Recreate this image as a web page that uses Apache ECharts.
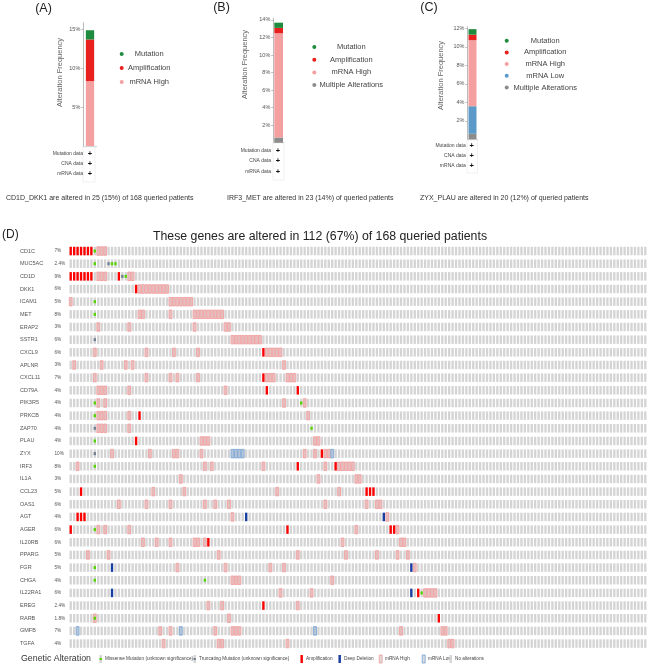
<!DOCTYPE html>
<html><head><meta charset="utf-8">
<script src="https://cdn.jsdelivr.net/npm/echarts@6/dist/echarts.min.js"></script>
<style>html,body{margin:0;padding:0;background:#fff}#c{width:650px;height:667px}</style>
</head><body><div id="c"></div>
<script>
const FONT = '"Liberation Sans", Arial, sans-serif';
const TOTAL = 168;

// ---- Panels A, B, C (patient counts, bottom to top) ----
const aSeries = ['mRNA High', 'Amplification', 'Mutation'];
const aCounts = [14, 9, 2];
const bSeries = ['Multiple Alterations', 'mRNA High', 'Amplification', 'Mutation'];
const bCounts = [1, 20, 1, 1];
const cSeries = ['Multiple Alterations', 'mRNA Low', 'mRNA High', 'Amplification', 'Mutation'];
const cCounts = [1, 5, 12, 1, 1];
const aTicks = [5, 10, 15];
const bTicks = [2, 4, 6, 8, 10, 12, 14];
const cTicks = [2, 4, 6, 8, 10, 12];
const panelColors = {
  'Mutation': '#1e8b3e', 'Amplification': '#e8201e', 'mRNA High': '#f4a0a0',
  'mRNA Low': '#5b9ac8', 'Multiple Alterations': '#8c8c8c'
};

// ---- Panel D oncoprint ----
const genes = ['CD1C','MUC5AC','CD1D','DKK1','ICAM1','MET','ERAP2','SSTR1','CXCL9','APLNR','CXCL11','CD79A',
  'PIK3R5','PRKCB','ZAP70','PLAU','ZYX','IRF3','IL1A','CCL23','OAS1','AGT','AGER','IL20RB','PPARG','FGR',
  'CHGA','IL22RA1','EREG','RARB','GMFB','TGFA'];
const genePct = ['7%','2.4%','9%','6%','5%','8%','3%','6%','6%','3%','7%','4%','4%','4%','4%','4%','10%','8%',
  '3%','5%','6%','4%','6%','6%','5%','5%','4%','6%','2.4%','1.8%','7%','4%'];

const amplification = [
  ['CD1C',[0,1,2,3,4,5,6]], ['CD1D',[0,1,2,3,4,5,6,14]], ['DKK1',[19]], ['CXCL9',[56]], ['CXCL11',[56]],
  ['CD79A',[57,66]], ['PRKCB',[20]], ['PLAU',[19]], ['ZYX',[73]], ['IRF3',[66,77]], ['CCL23',[3,86,87,88]],
  ['AGT',[2,3,4]], ['AGER',[0,63,93,94]], ['IL20RB',[40]], ['IL22RA1',[101]], ['EREG',[56]], ['RARB',[107]]
];
const deepDeletion = [
  ['AGT',[51,91]], ['FGR',[12,99]], ['IL22RA1',[12,99]]
];
const mrnaHigh = [
  ['CD1C',[8,9,10]], ['CD1D',[8,9,10,17,18]], ['DKK1',[20,21,22,23,24,25,26,27,28]],
  ['ICAM1',[0,29,30,31,32,33,34,35]], ['MET',[20,21,29,36,37,38,39,40,41,42,43,44]],
  ['ERAP2',[8,17,36,45,46]], ['SSTR1',[47,48,49,50,51,52,53,54,55]], ['CXCL9',[7,22,30,37,57,58,59,60,61]],
  ['APLNR',[1,9,16,18,62]], ['CXCL11',[7,22,29,31,37,57,58,59,63,64,65]], ['CD79A',[8,9,10,17,45]],
  ['PIK3R5',[8,10,62,68]], ['PRKCB',[8,9,10,17,69]], ['ZAP70',[8,9,10,17]], ['PLAU',[38,39,40,71,72]],
  ['ZYX',[12,23,30,31,38,68,71,74,75]], ['IRF3',[2,39,41,56,74,78,79,80,81,82]], ['IL1A',[32,72,83,84]],
  ['CCL23',[24,33,60,78]], ['OAS1',[14,22,29,39,42,46,74,86,89,90]], ['AGT',[47,92]],
  ['AGER',[8,10,17,83,95]], ['IL20RB',[21,25,29,36,37,39,79,96,97]], ['PPARG',[5,11,43,66,80,89,95,98]],
  ['FGR',[31,45,58,62,100]], ['CHGA',[47,48,49,76]], ['IL22RA1',[61,70,103,104,105,106]],
  ['EREG',[40,44,66]], ['RARB',[7,46]], ['GMFB',[26,29,42,47,48,49,96,108,109]], ['TGFA',[27,43,44,63,110,111]]
];
const mrnaLow = [
  ['ZYX',[47,48,49,50,76]], ['GMFB',[2,32,71]]
];
const missense = [
  ['CD1C',[7]], ['MUC5AC',[7,12,13]], ['CD1D',[16]], ['ICAM1',[7]], ['MET',[7]], ['PIK3R5',[7,67]],
  ['PRKCB',[7]], ['ZAP70',[70]], ['PLAU',[7]], ['IRF3',[7]], ['AGER',[7]], ['FGR',[7]], ['CHGA',[7,39]],
  ['IL22RA1',[102]], ['RARB',[7]]
];
const truncating = [
  ['MUC5AC',[11]], ['CD1D',[15]], ['SSTR1',[7]], ['ZAP70',[7]], ['ZYX',[7]]
];
const legendD = [
  ['Missense Mutation (unknown significance)', 'mut', '#53d400'],
  ['Truncating Mutation (unknown significance)', 'mut', '#708090'],
  ['Amplification', 'full', '#ff0000'],
  ['Deep Deletion', 'full', '#1a3fa3'],
  ['mRNA High', 'outline', '#f2a0a0'],
  ['mRNA Low', 'outline', '#7aa6d6'],
  ['No alterations', 'none', '#d3d3d3']
];
const legendDX = [99.5, 193.5, 300.5, 338.5, 379.5, 422.5, 449.5];

const COLS = 168;
function expand(list) {
  const out = [];
  list.forEach(([g, cols]) => { const r = genes.indexOf(g); cols.forEach(c => out.push([c, r])); });
  return out;
}
const bgData = [];
genes.forEach((g, r) => { for (let c = 0; c < COLS; c++) bgData.push([c, r]); });

function mkRender(kind, style) {
  return function (params, api) {
    const p = api.coord([api.value(0), api.value(1)]);
    const w = api.size([1, 0])[0];
    const h = api.size([0, 1])[1];
    const bw = w * 0.68, bh = h * 0.67;
    let x = p[0] + (w - bw) / 2, y = p[1] - bh / 2, ww = bw, hh = bh;
    if (kind === 'mut') { hh = h * 0.24; y = p[1] - hh / 2; }
    if (kind === 'outline') { x -= 0.25; ww += 0.5; }
    return { type: 'rect', shape: { x, y, width: ww, height: hh }, style: style };
  };
}

// ---- build options ----
const grids = [
  { left: 83.3, top: 22.7, width: 13.4, height: 123.3 },
  { left: 273.3, top: 18.3, width: 10.7, height: 124.4 },
  { left: 467.5, top: 26.7, width: 10, height: 112.6 },
  { left: 69, top: 244.7, width: 578, height: 405.2 }
];
const maxes = [15.85, 14.19, 12.17];
const ticks = [aTicks, bTicks, cTicks];
const intervals = [5, 2, 2];
const xAxes = [], yAxes = [];
for (let i = 0; i < 3; i++) {
  xAxes.push({ type: 'category', gridIndex: i, data: [''], axisLine: { lineStyle: { color: '#cccccc', width: 0.8 } },
    axisTick: { show: false }, axisLabel: { show: false } });
  yAxes.push({ type: 'value', gridIndex: i, min: 0, max: maxes[i], interval: intervals[i],
    splitLine: { show: false },
    axisLine: { show: true, lineStyle: { color: '#aaaaaa', width: 0.8 } },
    axisTick: { show: true, length: 2, lineStyle: { color: '#aaaaaa', width: 0.8 }, customValues: ticks[i] },
    axisLabel: { fontSize: 5.5, color: '#555', fontFamily: FONT, margin: 3, customValues: ticks[i],
      formatter: v => (ticks[i].indexOf(v) >= 0 ? v + '%' : '') } });
}
xAxes.push({ type: 'value', gridIndex: 3, min: 0, max: COLS, show: false });
yAxes.push({ type: 'category', gridIndex: 3, data: genes, inverse: true,
  axisLine: { show: false }, axisTick: { show: false }, splitLine: { show: false },
  axisLabel: { align: 'left', margin: 49, interval: 0, fontFamily: FONT,
    formatter: (v, i) => '{g|' + v + '}{p|' + genePct[i] + '}',
    rich: { g: { width: 34.5, fontSize: 5.5, color: '#555', fontFamily: FONT },
            p: { fontSize: 4.7, color: '#555', fontFamily: FONT } } } });

const series = [];
[[aSeries, aCounts], [bSeries, bCounts], [cSeries, cCounts]].forEach(([names, counts], i) => {
  names.forEach((n, k) => {
    series.push({ name: n, type: 'bar', stack: 'p' + i, xAxisIndex: i, yAxisIndex: i,
      barWidth: [8.3, 8.7, 8][i], data: [counts[k] / TOTAL * 100],
      itemStyle: { color: panelColors[n] }, emphasis: { disabled: true } });
  });
});
const onco = [
  ['No alterations', bgData, 'full', { fill: '#d4d4d4' }],
  ['mRNA High', expand(mrnaHigh), 'outline', { fill: 'rgba(255,150,150,0.35)', stroke: '#f2a0a0', lineWidth: 0.9 }],
  ['mRNA Low', expand(mrnaLow), 'outline', { fill: 'rgba(120,160,215,0.3)', stroke: '#7aa6d6', lineWidth: 0.9 }],
  ['Amplification', expand(amplification), 'full', { fill: '#ff0000' }],
  ['Deep Deletion', expand(deepDeletion), 'full', { fill: '#1a3fa3' }],
  ['Missense Mutation (unknown significance)', expand(missense), 'mut', { fill: '#53d400' }],
  ['Truncating Mutation (unknown significance)', expand(truncating), 'mut', { fill: '#708090' }]
];
onco.forEach(([n, d, kind, st]) => {
  series.push({ name: 'D ' + n, type: 'custom', xAxisIndex: 3, yAxisIndex: 3, data: d,
    renderItem: mkRender(kind, st), silent: true });
});

function mkLegend(names, left, top, gap, boxW) {
  return { orient: 'vertical', left: left, top: top, padding: 0, itemGap: gap, icon: 'circle',
    itemWidth: 4, itemHeight: 4, data: names.slice().reverse(), selectedMode: false,
    formatter: '{a|{name}}',
    textStyle: { fontFamily: FONT, rich: { a: { width: boxW, align: 'center', fontSize: 7.5, color: '#444', lineHeight: 10, fontFamily: FONT } } } };
}

const graphic = [];
function txt(x, y, s, size, opts) {
  graphic.push(Object.assign({ type: 'text', x: x, y: y, silent: true,
    style: Object.assign({ text: s, fontSize: size, fontFamily: FONT, fill: '#333', verticalAlign: 'middle', align: 'left' }, opts || {}) }));
}
// panel labels
txt(43.5, 9, '(A)', 12.5, { align: 'center', fill: '#222' });
txt(221.5, 8, '(B)', 12.5, { align: 'center', fill: '#222' });
txt(429, 8, '(C)', 12.5, { align: 'center', fill: '#222' });
txt(2, 234.5, '(D)', 12, { fill: '#222' });
txt(320, 237, 'These genes are altered in 112 (67%) of 168 queried patients', 12.3, { align: 'center', fill: '#222' });
// y axis titles
[[60, 72.5], [245, 64.5], [440.7, 75.5]].forEach(([x, y]) => {
  graphic.push({ type: 'text', x: x, y: y, rotation: Math.PI / 2, silent: true,
    style: { text: 'Alteration Frequency', fontSize: 7.5, fontFamily: FONT, fill: '#666', align: 'center', verticalAlign: 'middle' } });
});
// data-type rows
const dataRows = ['Mutation data', 'CNA data', 'mRNA data'];
[[83, 90, [154, 164, 174], [83, 147, 12, 35]], [271, 278, [151, 161, 172], [273, 143, 11, 37]],
 [465.7, 471.7, [146, 155.7, 165.7], [467, 140, 10.5, 33]]].forEach(([rx, px, ys, box]) => {
  graphic.push({ type: 'rect', silent: true, shape: { x: box[0], y: box[1], width: box[2], height: box[3] },
    style: { fill: 'none', stroke: '#eeeeee', lineWidth: 0.8 } });
  dataRows.forEach((s, k) => {
    txt(rx, ys[k], s, 5, { align: 'right', fill: '#444' });
    txt(px, ys[k], '+', 7.5, { align: 'center', fill: '#111', fontWeight: 'bold' });
  });
});
// captions
txt(6, 198, 'CD1D_DKK1 are altered in 25 (15%) of 168 queried patients', 7, { fill: '#333' });
txt(227, 198, 'IRF3_MET are altered in 23 (14%) of queried patients', 7, { fill: '#333' });
txt(420, 197.7, 'ZYX_PLAU are altered in 20 (12%) of queried patients', 7, { fill: '#333' });
// legend D
txt(21, 659, 'Genetic Alteration', 8.8, { fill: '#333' });
legendD.forEach(([name, kind, color], i) => {
  const x = legendDX[i], y = 655, w = 2.4, h = 8;
  graphic.push({ type: 'rect', silent: true, shape: { x: x, y: y, width: w, height: h }, style: { fill: '#d4d4d4' } });
  if (kind === 'full') graphic.push({ type: 'rect', silent: true, shape: { x: x, y: y, width: w, height: h }, style: { fill: color } });
  if (kind === 'mut') graphic.push({ type: 'rect', silent: true, shape: { x: x, y: y + 3, width: w, height: 2 }, style: { fill: color } });
  if (kind === 'outline') graphic.push({ type: 'rect', silent: true, shape: { x: x - 0.25, y: y, width: w + 0.5, height: h }, style: { fill: 'rgba(255,255,255,0.2)', stroke: color, lineWidth: 0.9 } });
  txt(x + 5.5, 659, name, 4.7, { fill: '#444' });
});

const option = {
  animation: false,
  backgroundColor: '#ffffff',
  textStyle: { fontFamily: FONT },
  grid: grids,
  xAxis: xAxes,
  yAxis: yAxes,
  legend: [
    mkLegend(aSeries, 119.7, 50, 6, 41),
    mkLegend(bSeries, 312.3, 43, 4.7, 60),
    mkLegend(cSeries, 504.7, 36.7, 3.7, 63)
  ],
  series: series,
  graphic: graphic
};
const chart = echarts.init(document.getElementById('c'), null, { renderer: 'canvas' });
chart.setOption(option);
</script></body></html>
